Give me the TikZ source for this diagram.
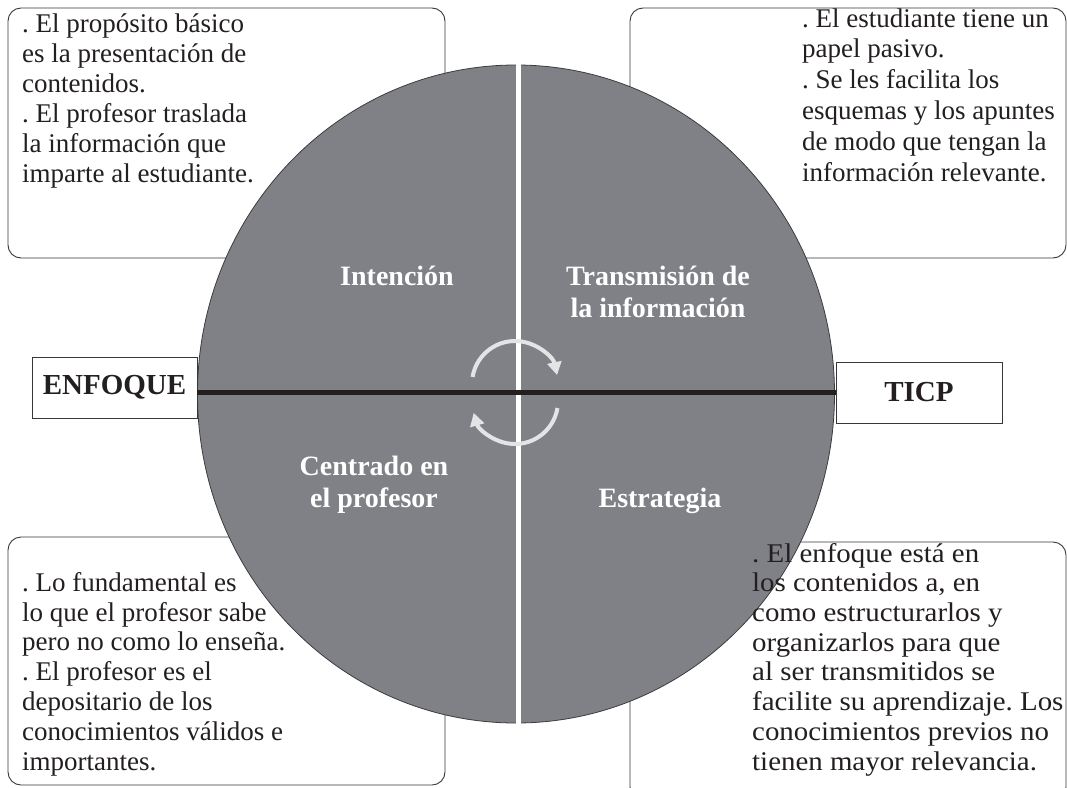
\documentclass[tikz,border=0pt]{standalone}
\usepackage{fontspec}
\setmainfont{Liberation Serif}
\newfontfamily\widefont[FakeStretch=1.07]{Liberation Serif}
\usetikzlibrary{arrows.meta}
\definecolor{disc}{RGB}{128,129,134}
\definecolor{rim}{RGB}{60,60,62}
\definecolor{axis}{RGB}{35,31,32}
\definecolor{cyc}{RGB}{228,228,230}
\definecolor{boxline}{RGB}{55,55,55}
\definecolor{ink}{RGB}{35,31,32}
\frenchspacing
\begin{document}
\begin{tikzpicture}[x=1pt,y=-1pt,
  panel/.style={draw=boxline, line width=0.9pt, fill=white, rounded corners=13pt, inner sep=0pt},
  body/.style={anchor=base west, align=left, inner sep=0pt, text=ink, font=\fontsize{27}{30}\selectfont},
  quad/.style={anchor=base, align=center, inner sep=0pt, text=white, font=\fontsize{28}{32}\selectfont\bfseries},
  tag/.style={draw=boxline, line width=0.9pt, fill=white, inner sep=0pt, text=ink, font=\fontsize{29}{32}\selectfont\bfseries},
  cyc arrow/.style={draw=cyc, line width=4pt, -{Triangle[length=13pt,width=14pt]}}]
\useasboundingbox (0,0) rectangle (1067,787);

% panels
\node[panel, minimum width=437pt, minimum height=250pt] (tlbox) at (226.5,133) {};
\node[panel, minimum width=436pt, minimum height=250pt] (trbox) at (848,133) {};
\node[panel, minimum width=437pt, minimum height=248pt] (blbox) at (226.5,661) {};
\node[panel, minimum width=436pt, minimum height=258pt] (brbox) at (848,671) {};

% disc
\coordinate (c) at (516,392);
\draw[rim, line width=0.8pt, fill=disc] (516,394) ellipse [x radius=318.5, y radius=329];
\begin{scope}
  \clip (516,394) ellipse [x radius=319.5, y radius=330];
  \draw[white, line width=5pt] (518,0) -- (518,787);
\end{scope}

% side tags
\node[tag, minimum width=165pt, minimum height=61pt] (enfoque) at (114.5,387.5) {ENFOQUE};
\node[tag, minimum width=166pt, minimum height=61pt] (ticp) at (919,392.5) {TICP};
\draw[axis, line width=5pt] (enfoque.east |- c) -- (ticp.west |- c);

% cycle arrows
\coordinate (ctop) at (515,384);
\coordinate (cbot) at (515,401);
\draw[cyc arrow] ([shift={(189.4:43)}]ctop) arc[start angle=189.4, end angle=348, radius=43];
\draw[cyc arrow] ([shift={(9.4:43)}]cbot) arc[start angle=9.4, end angle=164, radius=43];

% quadrant labels (base = last line)
\node[quad] (intencion) at (397,285) {Intención};
\node[quad] (transmision) at (658,317) {Transmisión de\\la información};
\node[quad] (centrado) at (374,507) {Centrado en\\el profesor};
\node[quad] (estrategia) at (660,507) {Estrategia};

% panel texts (base = last line)
\node[body] (tltext) at (22,182) {. El propósito básico\\es la presentación de\\contenidos.\\. El profesor traslada\\la información que\\imparte al estudiante.};
\node[body, font=\fontsize{27}{30.8}\selectfont] (trtext) at (802,181) {. El estudiante tiene un\\papel pasivo.\\. Se les facilita los\\esquemas y los apuntes\\de modo que tengan la\\información relevante.};
\node[body, font=\fontsize{27}{29.8}\selectfont] (bltext) at (22,770) {. Lo fundamental es\\lo que el profesor sabe\\pero no como lo enseña.\\. El profesor es el\\depositario de los\\conocimientos válidos e\\importantes.};
\node[body, font=\widefont\fontsize{27}{29.7}\selectfont] (brtext) at (752,770) {. El enfoque está en\\los contenidos a, en\\como estructurarlos y\\organizarlos para que\\al ser transmitidos se\\facilite su aprendizaje. Los\\conocimientos previos no\\tienen mayor relevancia.};
\end{tikzpicture}
\end{document}
